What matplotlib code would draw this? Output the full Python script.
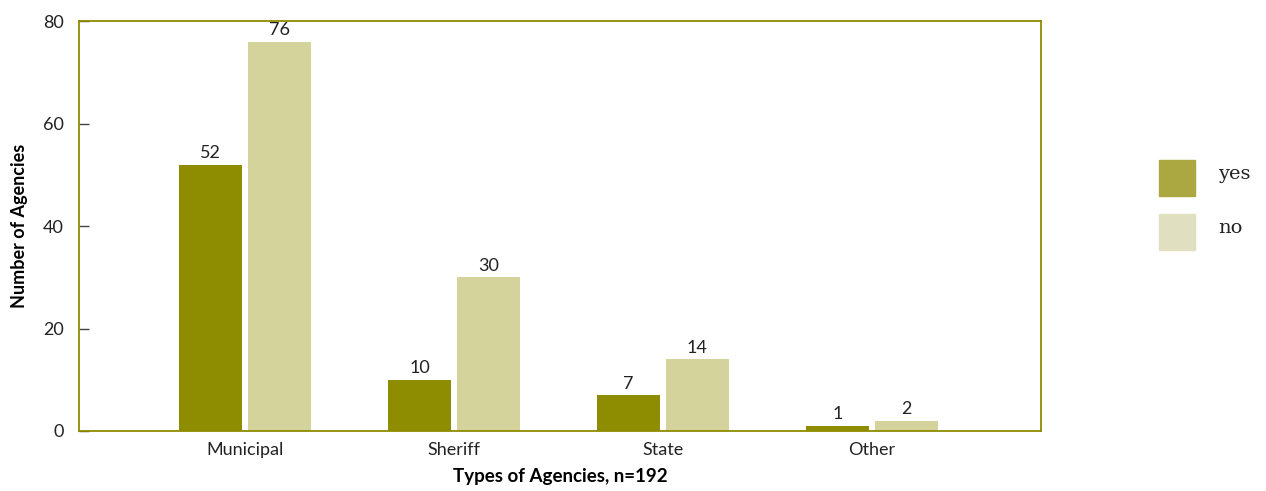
import numpy as np
import matplotlib.pyplot as plt
from matplotlib.patches import Rectangle

categories = ['Municipal', 'Sheriff', 'State', 'Other']
yes_vals = [52, 10, 7, 1]
no_vals = [76, 30, 14, 2]
yticks = [0, 20, 40, 60, 80]

plt.rcParams['font.family'] = ['Lato', 'DejaVu Sans']

fig = plt.figure(figsize=(12.66, 4.91), dpi=100)
ax = fig.add_axes([0.0624, 0.1222, 0.7599, 0.835])

x = np.arange(len(categories))
w = 0.30
off = 0.165
b1 = ax.bar(x - off, yes_vals, w, color='#8e8c00')
b2 = ax.bar(x + off, no_vals, w, color='#d3d39b')

for bars in (b1, b2):
    for r in bars:
        ax.text(r.get_x() + r.get_width() / 2, r.get_height() + 0.7, str(int(r.get_height())),
                ha='center', va='bottom', fontsize=13, color='#222222')

ax.set_xlim(-0.795, 3.81)
ax.set_ylim(0, 80)
ax.set_yticks(yticks)
ax.set_xticks(x)
ax.set_xticklabels(categories, fontsize=13, color='#222222')
ax.tick_params(axis='y', direction='in', length=7, width=1, color='#444444',
               labelsize=13, labelcolor='#222222', pad=11)
ax.tick_params(axis='x', length=0, pad=8)
for s in ax.spines.values():
    s.set_color('#8e8c00')
    s.set_linewidth(1.3)

ax.set_xlabel('Types of Agencies, n=192', fontsize=13.5, fontweight='bold')
ax.xaxis.set_label_coords(0.5, -0.09)
ax.set_ylabel('Number of Agencies', fontsize=13, fontweight='bold')
ax.yaxis.set_label_coords(-0.053, 0.5)

# legend
fig.add_artist(Rectangle((1159 / 1266, 1 - 196 / 491), 36 / 1266, 36 / 491,
                         transform=fig.transFigure, color='#aba842'))
fig.add_artist(Rectangle((1159 / 1266, 1 - 250 / 491), 36 / 1266, 36 / 491,
                         transform=fig.transFigure, color='#e0e0c0'))
fig.text(1218 / 1266, 1 - 174 / 491, 'yes', fontsize=14, family='DejaVu Serif',
         va='center', ha='left', color='#222222')
fig.text(1218 / 1266, 1 - 228 / 491, 'no', fontsize=14, family='DejaVu Serif',
         va='center', ha='left', color='#222222')

fig.savefig('out.png', dpi=100)
